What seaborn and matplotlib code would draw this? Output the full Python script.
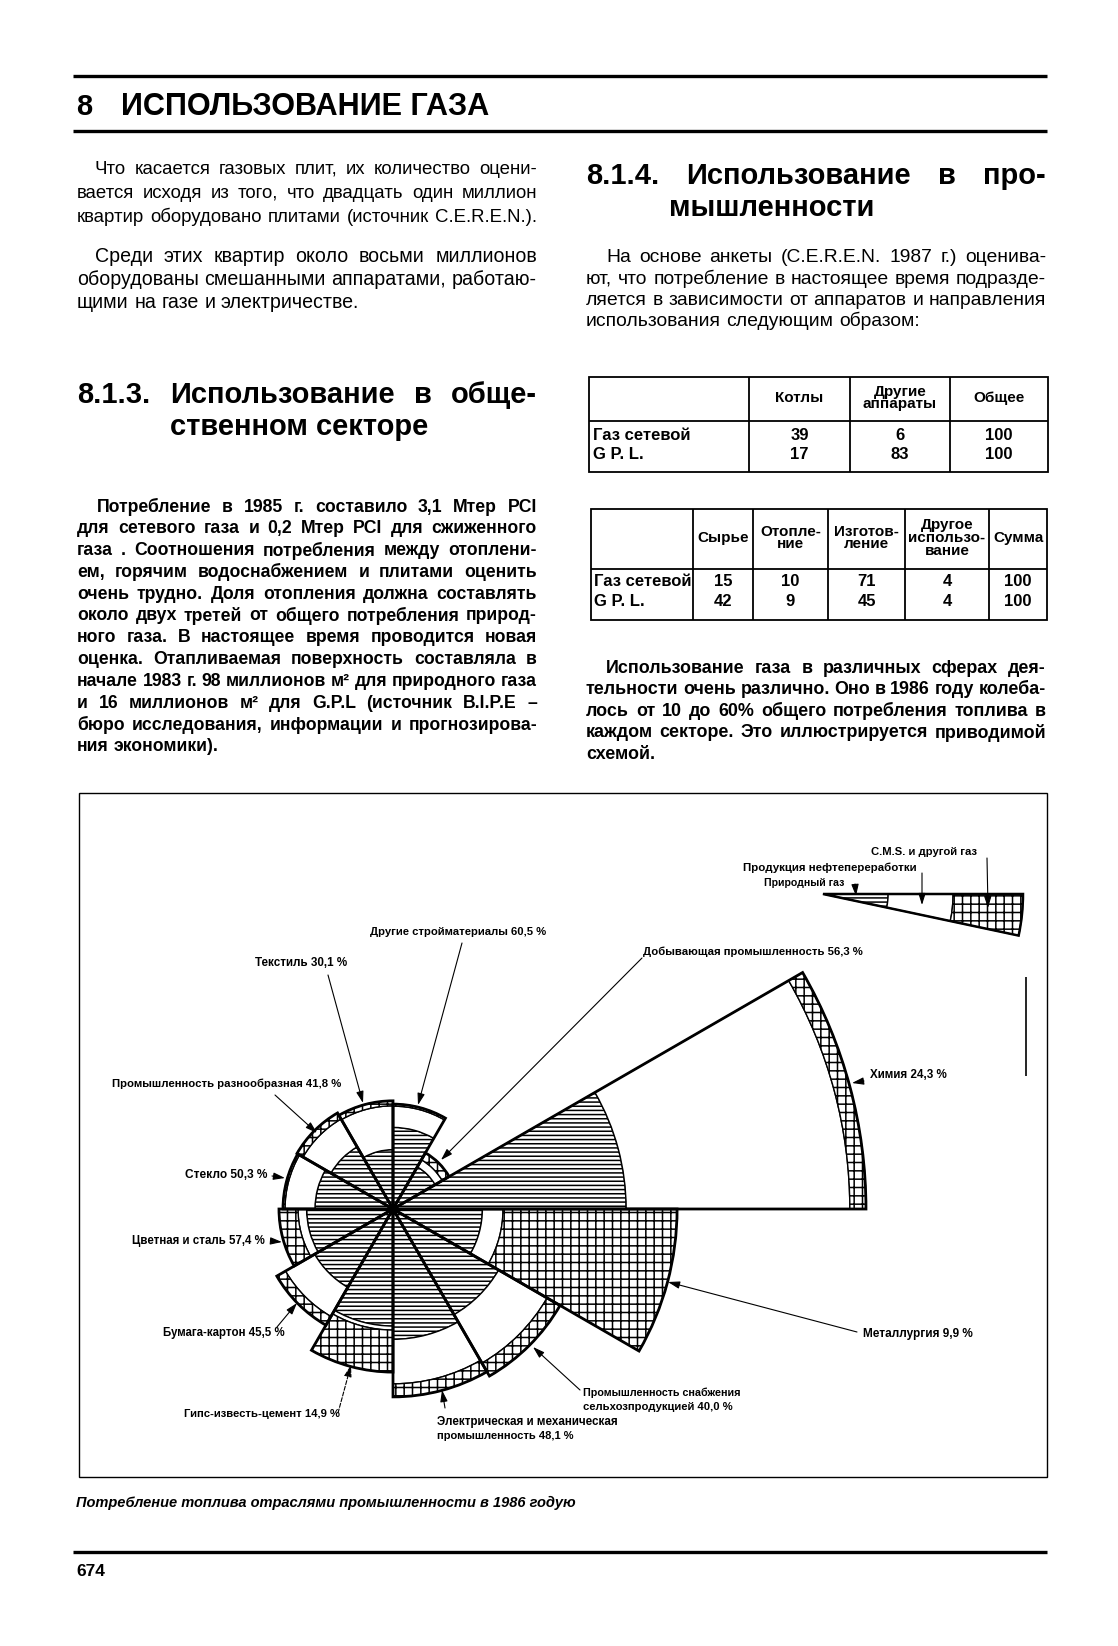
"""
Page 674: industrial gas use, with the rose diagram of fuel consumption by industry in 1986
"""

import numpy as np
import matplotlib
matplotlib.use('Agg')
import matplotlib.pyplot as plt
from matplotlib import font_manager
from matplotlib.patches import Rectangle
import seaborn as sns

W, H = 1118, 1646

# --- rose diagram data (sectors counter-clockwise from east, 30 degrees each) ---
sector_names = ['Химия', 'Добывающая промышленность', 'Другие стройматериалы', 'Текстиль',
                'Промышленность разнообразная', 'Стекло', 'Цветная и сталь', 'Бумага-картон',
                'Гипс-известь-цемент', 'Электрическая и механическая промышленность',
                'Промышленность снабжения сельхозпродукцией', 'Металлургия']
gas_share = [24.3, 56.3, 60.5, 30.1, 41.8, 50.3, 57.4, 45.5, 51.5, 48.1, 40.0, 9.9]
oil_share = [69.0, 20.6, 35.7, 60.9, 46.0, 46.1, 12.0, 40.1, 3.6, 38.5, 45.1, 5.1]
other_share = [6.7, 23.1, 3.8, 9.0, 12.2, 3.6, 30.6, 14.4, 44.9, 13.4, 14.9, 85.0]
total_use = [223.7, 4.2, 11.0, 11.7, 12.3, 12.1, 13.0, 18.0, 26.6, 35.3, 37.2, 80.7]

# key wedge
legend_names = ['Природный газ', 'Продукция нефтепереработки', 'C.M.S. и другой газ']
legend_share = [10.6, 31.7, 57.7]

# --- tables ---
table1_cols = ['Котлы', 'Другие\nаппараты', 'Общее']
table1_rows = ['Газ сетевой', 'G P. L.']
table1_vals = [[39, 6, 100], [17, 83, 100]]
table2_cols = ['Сырье', 'Отопле-\nние', 'Изготов-\nление', 'Другое\nиспользо-\nвание', 'Сумма']
table2_rows = ['Газ сетевой', 'G P. L.']
table2_vals = [[15, 10, 71, 4, 100], [42, 9, 45, 4, 100]]

# --- page text ---
par1 = ['Что касается газовых плит, их количество оцени-',
        'вается исходя из того, что двадцать один миллион',
        'квартир оборудовано плитами (источник C.E.R.E.N.).']
par2 = ['Среди этих квартир около восьми  миллионов',
        'оборудованы смешанными аппаратами, работаю-',
        'щими на газе и электричестве.']
par3 = ['Потребление в 1985 г. составило 3,1 Мтер PCI',
        'для сетевого газа и 0,2 Мтер PCI для сжиженного',
        'газа . Соотношения потребления между отоплени-',
        'ем, горячим водоснабжением и плитами оценить',
        'очень трудно. Доля отопления должна составлять',
        'около двух третей от общего потребления природ-',
        'ного газа. В настоящее время проводится новая',
        'оценка. Отапливаемая поверхность составляла в',
        'начале 1983 г. 98 миллионов м² для природного газа',
        'и 16 миллионов м² для G.P.L (источник B.I.P.E –',
        'бюро исследования, информации и прогнозирова-',
        'ния экономики).']
par4 = ['На основе анкеты (C.E.R.E.N. 1987 г.) оценива-',
        'ют, что потребление в настоящее время подразде-',
        'ляется в зависимости от аппаратов и направления',
        'использования следующим образом:']
par5 = ['Использование газа в различных сферах дея-',
        'тельности очень различно. Оно в 1986 году колеба-',
        'лось от 10 до 60% общего потребления топлива в',
        'каждом секторе. Это иллюстрируется приводимой',
        'схемой.']

sns.set_theme(style='white', rc={'hatch.linewidth': 1.1, 'hatch.color': 'black',
                                 'text.color': 'black'})
available = {f.name for f in font_manager.fontManager.ttflist}
NARROW = 'Liberation Sans Narrow' if 'Liberation Sans Narrow' in available else 'Liberation Sans'
WIDE = 'Liberation Sans'
plt.rcParams['font.family'] = [WIDE, 'DejaVu Sans']

fig = plt.figure(figsize=(W / 100, H / 100), dpi=100)
renderer = fig.canvas.get_renderer()


def polar_at(cx, cy, rad):
    """Polar axes whose centre sits at page pixel (cx, cy), one radial unit per pixel"""
    ax = fig.add_axes([(cx - rad) / W, (H - cy - rad) / H, 2 * rad / W, 2 * rad / H],
                      projection='polar')
    ax.set_ylim(0, rad)
    ax.set_axis_off()
    ax.patch.set_visible(False)
    return ax


# main rose
rose = polar_at(393, 1209, 480)
theta = np.radians(np.arange(len(sector_names)) * 30)
width = np.radians(30)
scale = np.sqrt(1000)
tot = np.array(total_use)
g = np.array(gas_share) / 100
o = np.array(oil_share) / 100
r_gas = scale * np.sqrt(tot * g)
r_oil = scale * np.sqrt(tot * (g + o))
r_all = scale * np.sqrt(tot)

rose.bar(theta, r_gas, width=width, bottom=0, align='edge', facecolor='white',
         edgecolor='black', hatch='----', lw=1.0)
rose.bar(theta, r_oil - r_gas, width=width, bottom=r_gas, align='edge', facecolor='white',
         edgecolor='black', lw=1.0)
rose.bar(theta, r_all - r_oil, width=width, bottom=r_oil, align='edge', facecolor='white',
         edgecolor='black', hatch='++', lw=1.0)
rose.bar(theta, r_all, width=width, bottom=0, align='edge', fill=False, edgecolor='black', lw=2.0)

# key wedge
key = polar_at(823, 894, 210)
cum = np.cumsum(legend_share) / 100
r_key = 200 * np.sqrt(cum)
bottoms = np.concatenate([[0], r_key[:-1]])
for bot, top, hatch in zip(bottoms, r_key, ['----', '', '++']):
    key.bar(np.radians(-12), top - bot, width=np.radians(12), bottom=bot, align='edge',
            facecolor='white', edgecolor='black', hatch=hatch, lw=1.0)
key.bar(np.radians(-12), r_key[-1], width=np.radians(12), bottom=0, align='edge',
        fill=False, edgecolor='black', lw=1.8)

# page overlay in pixel units
page = fig.add_axes([0, 0, 1, 1])
page.set_xlim(0, W)
page.set_ylim(H, 0)
page.set_axis_off()
page.patch.set_visible(False)


def text_width(t):
    return t.get_window_extent(renderer).width


def measure(s, size, family, weight):
    t = page.text(0, 0, s, fontsize=size, fontweight=weight, family=family)
    w = text_width(t)
    t.remove()
    return w


def justify(lines, x0, x1, ys, size, family, weight='normal', indent=0, last_left=True):
    """Lay out a paragraph word by word so each line fills the column"""
    for i, line in enumerate(lines):
        left = x0 + (indent if i == 0 else 0)
        words = line.split()
        arts = [page.text(left, ys[i], w, fontsize=size, fontweight=weight, family=family,
                          va='center', ha='left') for w in words]
        widths = [text_width(a) for a in arts]
        space = size * 100 / 72 * 0.28
        if (i == len(lines) - 1 and last_left) or len(words) == 1:
            gap = space
        else:
            gap = (x1 - left - sum(widths)) / (len(words) - 1)
        x = left
        for a, w in zip(arts, widths):
            a.set_x(x)
            x += w + gap


def paragraph(lines, x0, x1, ys, max_size, family, weight='normal', indent=0, last_left=True,
              slack=1.0):
    """Pick the largest size at which every justified line still fits, then justify"""
    base = 10.0
    best = max_size
    for i, line in enumerate(lines):
        if last_left and i == len(lines) - 1:
            continue
        words = line.split()
        natural = sum(measure(w, base, family, weight) for w in words)
        natural += (len(words) - 1) * base * 100 / 72 * 0.28 * slack
        target = x1 - x0 - (indent if i == 0 else 0)
        best = min(best, base * target / natural)
    justify(lines, x0, x1, ys, best, family, weight, indent, last_left)
    return best


def fit(s, x0, x1, y, size, family, weight='bold', style='normal'):
    """Text scaled so that it spans x0..x1"""
    t = page.text(x0, y, s, fontsize=size, fontweight=weight, family=family, style=style,
                  va='center', ha='left')
    t.set_fontsize(size * (x1 - x0) / text_width(t))
    return t


def hline(y, x0, x1, lw):
    page.plot([x0, x1], [y, y], color='black', lw=lw, solid_capstyle='butt')


def vline(x, y0, y1, lw):
    page.plot([x, x], [y0, y1], color='black', lw=lw, solid_capstyle='butt')


# header
hline(76, 73, 1047, 2.4)
hline(131, 73, 1047, 2.4)
page.text(76, 107, '8', fontsize=21, fontweight='bold', family=NARROW, va='center')
fit('ИСПОЛЬЗОВАНИЕ ГАЗА', 121, 491, 107, 21, NARROW)

# left column
paragraph(par1, 77, 537, [169, 193, 217], 15, NARROW, indent=18, last_left=False)
paragraph(par2, 77, 537, [256, 279, 302], 15, NARROW, indent=18)
hs = paragraph(['8.1.3. Использование в обще-'], 77, 537, [395], 21, WIDE, weight='bold',
               last_left=False, slack=2.2)
page.text(170, 427, 'ственном секторе', fontsize=hs, fontweight='bold', family=WIDE, va='center')
paragraph(par3, 77, 537, [507 + 21.8 * i for i in range(len(par3))], 13.5, WIDE,
          weight='bold', indent=20)

# right column
hs = paragraph(['8.1.4. Использование в про-'], 586, 1046, [176], 21, WIDE, weight='bold',
               last_left=False, slack=3.0)
page.text(669, 208, 'мышленности', fontsize=hs, fontweight='bold', family=WIDE, va='center')
paragraph(par4, 586, 1046, [257, 279, 300, 321], 15, NARROW, indent=20)
paragraph(par5, 586, 1046, [668, 689.5, 711, 732.5, 754], 13.5, WIDE, weight='bold', indent=20)

# table 1
page.add_patch(Rectangle((589, 377), 459, 95, fill=False, lw=1.3, ec='black'))
hline(421, 589, 1048, 1.3)
for x in [749, 850, 950]:
    vline(x, 377, 472, 1.3)
t1_centres = [799.5, 900, 999]
for cx, col in zip(t1_centres, table1_cols):
    page.text(cx, 398, col, fontsize=11, fontweight='bold', family=NARROW, ha='center',
              va='center', linespacing=0.9)
for ry, row, vals in zip([435, 454], table1_rows, table1_vals):
    page.text(593, ry, row, fontsize=12, fontweight='bold', family=NARROW, va='center')
    for cx, v in zip(t1_centres, vals):
        page.text(cx, ry, str(v), fontsize=12, fontweight='bold', family=NARROW,
                  ha='center', va='center')

# table 2
page.add_patch(Rectangle((591, 509), 456, 111, fill=False, lw=1.3, ec='black'))
hline(569, 591, 1047, 1.3)
for x in [693, 753, 828, 905, 989]:
    vline(x, 509, 620, 1.3)
t2_centres = [723, 790.5, 866.5, 947, 1018]
for cx, col in zip(t2_centres, table2_cols):
    page.text(cx, 538, col, fontsize=11, fontweight='bold', family=NARROW, ha='center',
              va='center', linespacing=0.9)
for ry, row, vals in zip([582, 602], table2_rows, table2_vals):
    page.text(594, ry, row, fontsize=12, fontweight='bold', family=NARROW, va='center')
    for cx, v in zip(t2_centres, vals):
        page.text(cx, ry, str(v), fontsize=12, fontweight='bold', family=NARROW,
                  ha='center', va='center')

# chart frame and a stray rule inside it
page.add_patch(Rectangle((79, 793), 968, 684, fill=False, lw=1.0, ec='black'))
vline(1026, 977, 1076, 1.2)


def arrow(start, tip, ls='-'):
    page.annotate('', xy=tip, xytext=start,
                  arrowprops=dict(arrowstyle='-|>,head_length=0.7,head_width=0.22', lw=0.8,
                                  color='black', shrinkA=0, shrinkB=0, mutation_scale=10,
                                  linestyle=ls))


# sector labels: text, extent, centre line, arrow start/tip
labels = [
    ('Химия 24,3 %', 870, 947, 1075, (864, 1081), (852, 1083)),
    ('Добывающая промышленность 56,3 %', 643, 862, 952, (642, 958), (441, 1160)),
    ('Другие стройматериалы 60,5 %', 370, 545, 932, (462, 943), (418, 1105)),
    ('Текстиль 30,1 %', 255, 347, 963, (328, 975), (363, 1103)),
    ('Промышленность разнообразная 41,8 %', 112, 342, 1084, (275, 1095), (317, 1133)),
    ('Стекло 50,3 %', 185, 267, 1175, (272, 1176), (285, 1178)),
    ('Цветная и сталь 57,4 %', 132, 265, 1241, (271, 1241), (282, 1242)),
    ('Бумага-картон 45,5 %', 163, 285, 1333, (277, 1327), (297, 1303)),
    ('Гипс-известь-цемент 14,9 %', 184, 340, 1414, (338, 1413), (351, 1365)),
    ('Электрическая и механическая', 437, 617, 1422, (445, 1408), (442, 1390)),
    ('Промышленность снабжения', 583, 740, 1393, (580, 1390), (533, 1347)),
    ('Металлургия 9,9 %', 863, 972, 1334, (857, 1332), (668, 1282)),
]
for s, x0, x1, y, start, tip in labels:
    fit(s, x0, x1, y, 7, NARROW)
    arrow(start, tip, ls='--' if s.startswith('Гипс') else '-')
fit('промышленность 48,1 %', 437, 573, 1436, 7, NARROW)
fit('сельхозпродукцией 40,0 %', 583, 733, 1407, 7, NARROW)

# key labels
fit(legend_names[2], 871, 978, 852, 6, NARROW)
arrow((987, 858), (988, 908))
fit(legend_names[1], 743, 918, 868, 6, NARROW)
arrow((922, 873), (922, 905))
fit(legend_names[0], 764, 845, 883, 6, NARROW)
arrow((855, 884), (856, 896))

# caption, footer
fit('Потребление топлива отраслями промышленности в 1986 годую', 76, 576, 1503, 10,
    NARROW, weight='bold', style='italic')
hline(1552, 73, 1047, 2.4)
page.text(76, 1572, '674', fontsize=12.5, fontweight='bold', family=WIDE, va='center')

fig.savefig('out.png', dpi=100)
